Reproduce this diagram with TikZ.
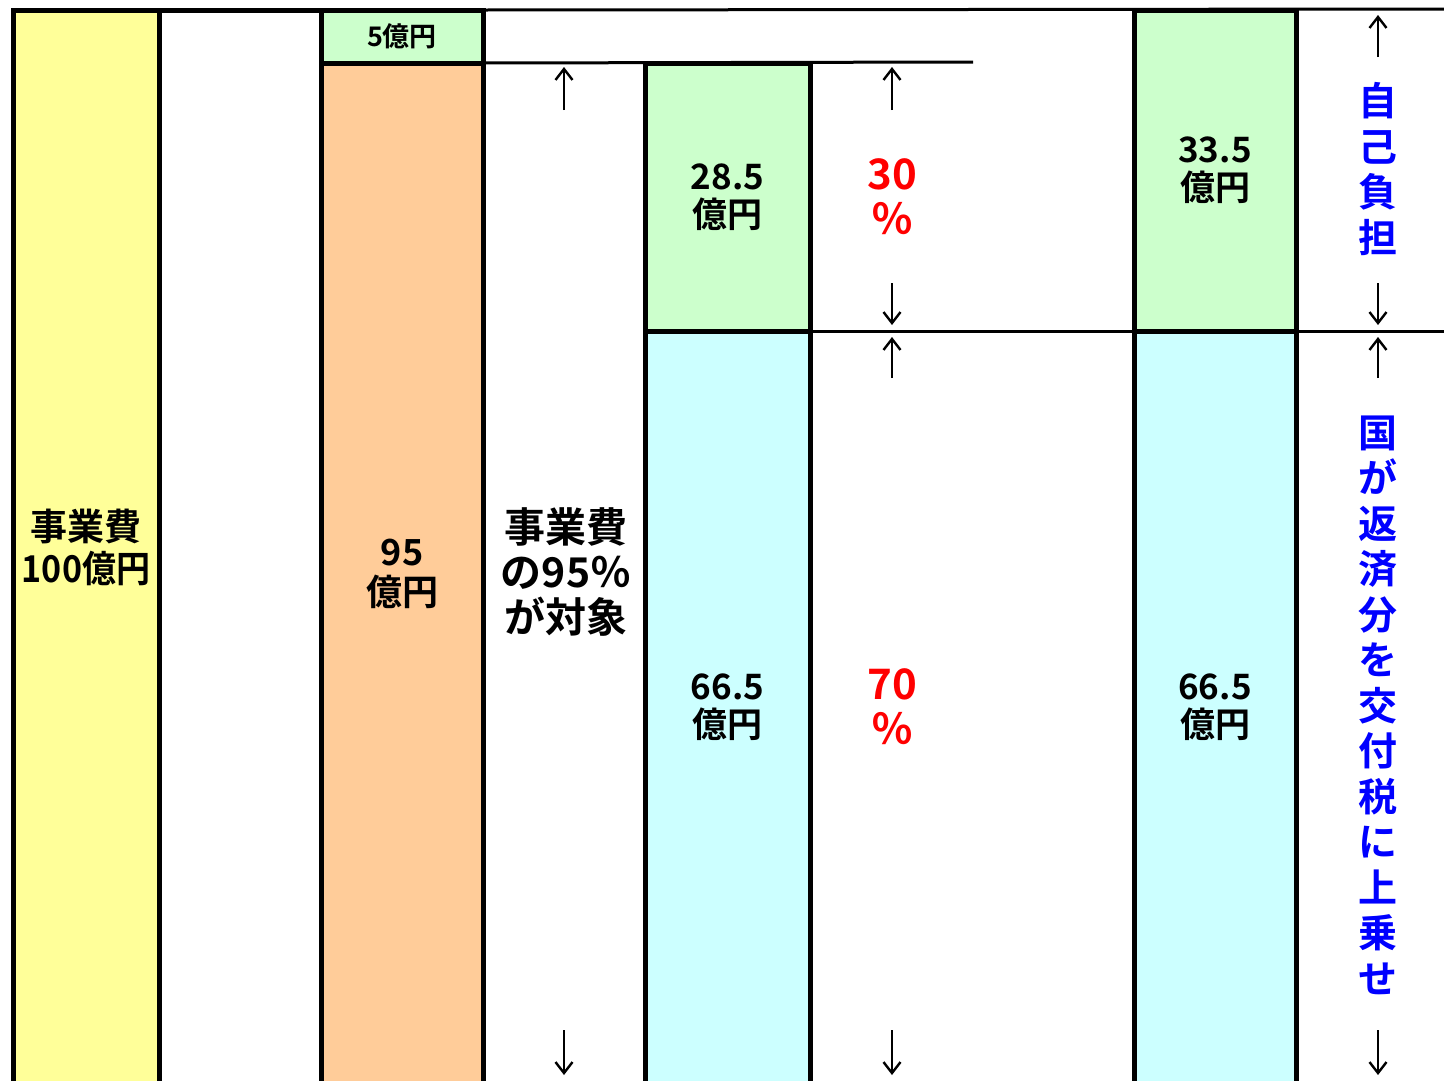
\documentclass[tikz,border=0pt]{standalone}
\usepackage{fontspec}
\newfontfamily\jpfont[BoldFont={Noto Sans CJK JP Bold}]{Noto Sans CJK JP}
\usetikzlibrary{arrows.meta}

\definecolor{costcolor}{RGB}{255,255,153}
\definecolor{targetcolor}{RGB}{255,204,153}
\definecolor{owncolor}{RGB}{204,255,204}
\definecolor{grantcolor}{RGB}{204,255,255}

\tikzset{
  box/.style={draw, line width=5pt, anchor=north west, inner sep=0pt, outer sep=0pt, align=center,
    font=\jpfont\bfseries\fontsize{35}{38}\selectfont},
  rule/.style={line width=3pt},
  note/.style={align=center, inner sep=0pt, font=\jpfont\bfseries\fontsize{41}{45}\selectfont},
  rate/.style={align=center, inner sep=0pt, text=red, font=\jpfont\bfseries\fontsize{42}{45}\selectfont},
  side/.style={align=center, inner sep=0pt, text=blue, font=\jpfont\bfseries\fontsize{39}{45.5}\selectfont},
  updown/.style={line width=2.4pt, -{Straight Barb[length=11pt,width=17pt,line width=2.4pt]}},
}

\begin{document}
\begin{tikzpicture}[x=1pt,y=-1pt]
  \useasboundingbox (0,0) rectangle (1444,1080);
  \clip (0,0) rectangle (1444,1080);

  % Bars
  \node[box, fill=costcolor, minimum width=146pt, minimum height=1074pt,
    font=\jpfont\bfseries\fontsize{37}{42}\selectfont] (cost) at (13,10) {事業費\\\scalebox{0.92}[1]{100億円}};
  \node[box, fill=owncolor, minimum width=162pt, minimum height=53pt,
    font=\jpfont\bfseries\fontsize{27}{30}\selectfont] (excl) at (321,10) {5億円};
  \node[box, fill=targetcolor, minimum width=162pt, minimum height=1021pt,
    font=\jpfont\bfseries\fontsize{36}{40}\selectfont] (target) at (321,63) {95\\億円};
  \node[box, fill=owncolor, minimum width=165pt, minimum height=268pt] (own) at (645,63) {28.5\\億円};
  \node[box, fill=grantcolor, minimum width=165pt, minimum height=753pt] (grant) at (645,331) {66.5\\億円};
  \node[box, fill=owncolor, minimum width=162pt, minimum height=321pt] (ownsum) at (1134,10) {33.5\\億円};
  \node[box, fill=grantcolor, minimum width=162pt, minimum height=753pt] (grantsum) at (1134,331) {66.5\\億円};

  % Guide lines
  \coordinate (topend) at (1444,9);
  \coordinate (midend) at (973,62);
  \coordinate (splitend) at (1444,331);
  \draw[line width=5pt] (cost.north east) -- (excl.north west);
  \draw[rule] (excl.north east) -- (topend);
  \draw[rule] (target.north east) -- (midend);
  \draw[rule] (own.south east) -- (ownsum.south west);
  \draw[rule] (ownsum.south east) -- (splitend);

  % Arrows
  \foreach \x/\ya/\yb in {564/110/67, 564/1030/1075, 892/110/67, 892/283/325, 892/378/337,
      892/1030/1075, 1378/57/15, 1378/283/325, 1378/378/337, 1378/1030/1075}
    \draw[updown] (\x,\ya) -- (\x,\yb);

  % Labels
  \node[note] (scope) at (566,572) {事業費\\の95％\\が対象};
  \node[rate] (ownrate) at (892,197) {30\\％};
  \node[rate] (grantrate) at (892,707) {70\\％};
  \node[side] (ownside) at (1378,169) {自\\己\\負\\担};
  \node[side] (grantside) at (1378,705) {国\\が\\返\\済\\分\\を\\交\\付\\税\\に\\上\\乗\\せ};
\end{tikzpicture}
\end{document}
